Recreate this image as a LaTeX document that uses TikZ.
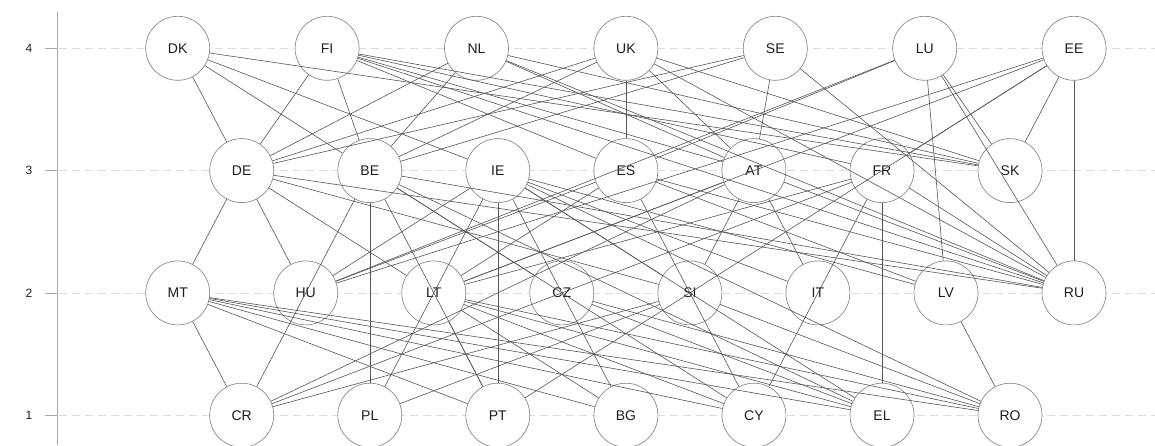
\documentclass[tikz,border=0pt]{standalone}
\usepackage{fontspec}
\setmainfont{Liberation Sans}
\definecolor{edgec}{HTML}{555555}
\definecolor{circc}{HTML}{858585}
\definecolor{gridc}{HTML}{DCDCDC}
\definecolor{axisc}{HTML}{A8A8A8}
\definecolor{textc}{HTML}{1E1E1E}
\begin{document}
\begin{tikzpicture}[x=1pt,y=-1pt,
  cnode/.style={circle,draw=circc,line width=0.65pt,fill=white,minimum size=64pt,inner sep=0pt,
    font=\fontsize{14}{16}\selectfont,text=textc},
  edge/.style={draw=edgec,line width=0.6pt},
  gridline/.style={draw=gridc,line width=0.7pt,dash pattern=on 8pt off 5pt},
  axislab/.style={font=\fontsize{12}{14}\selectfont,text=textc}]
\useasboundingbox (0,0) rectangle (1155,445);
% axis and grid
\foreach \yy/\lab in {48.3/4,170.6/3,292.9/2,415.2/1}{
  \draw[gridline] (59,\yy) -- (1155,\yy);
  \draw[axisc,line width=0.8pt] (45,\yy) -- (57.3,\yy);
  \node[axislab] at (29,\yy) {\lab};
}
\draw[axisc,line width=0.9pt] (57.3,12) -- (57.3,445);
% nodes row 4
\node[cnode] (DK) at (177.7,48.3) {DK};
\node[cnode] (FI) at (327.1,48.3) {FI};
\node[cnode] (NL) at (476.5,48.3) {NL};
\node[cnode] (UK) at (625.9,48.3) {UK};
\node[cnode] (SE) at (775.3,48.3) {SE};
\node[cnode] (LU) at (924.7,48.3) {LU};
\node[cnode] (EE) at (1074,48.3) {EE};
% row 3
\node[cnode] (DE) at (241.7,170.6) {DE};
\node[cnode] (BE) at (369.8,170.6) {BE};
\node[cnode] (IE) at (497.8,170.6) {IE};
\node[cnode] (ES) at (625.9,170.6) {ES};
\node[cnode] (AT) at (753.9,170.6) {AT};
\node[cnode] (FR) at (882,170.6) {FR};
\node[cnode] (SK) at (1010,170.6) {SK};
% row 2
\node[cnode] (MT) at (177.7,292.9) {MT};
\node[cnode] (HU) at (305.7,292.9) {HU};
\node[cnode] (LT) at (433.8,292.9) {LT};
\node[cnode] (CZ) at (561.8,292.9) {CZ};
\node[cnode] (SI) at (689.9,292.9) {SI};
\node[cnode] (IT) at (817.9,292.9) {IT};
\node[cnode] (LV) at (946,292.9) {LV};
\node[cnode] (RU) at (1074,292.9) {RU};
% row 1
\node[cnode] (CR) at (241.7,415.2) {CR};
\node[cnode] (PL) at (369.8,415.2) {PL};
\node[cnode] (PT) at (497.8,415.2) {PT};
\node[cnode] (BG) at (625.9,415.2) {BG};
\node[cnode] (CY) at (753.9,415.2) {CY};
\node[cnode] (EL) at (882,415.2) {EL};
\node[cnode] (RO) at (1010,415.2) {RO};
% edges
\foreach \a/\b in {
  DK/DE,DK/BE,DK/IE,DK/SK,
  FI/DE,FI/BE,FI/ES,FI/AT,FI/FR,FI/SK,FI/RU,
  NL/DE,NL/BE,NL/AT,NL/SK,NL/RU,
  UK/DE,UK/BE,UK/ES,UK/AT,UK/SK,UK/RU,
  SE/DE,SE/BE,SE/AT,SE/RU,
  LU/ES,LU/HU,LU/SK,LU/RU,LU/LV,
  EE/HU,EE/LT,EE/FR,EE/PT,EE/SK,EE/RU,
  DE/MT,DE/HU,DE/LT,DE/SI,DE/RU,
  BE/CR,BE/PL,BE/PT,BE/CZ,BE/CY,BE/EL,BE/RU,
  IE/HU,IE/PL,IE/PT,IE/BG,IE/SI,IE/EL,IE/IT,IE/RO,IE/LV,
  ES/HU,ES/LT,ES/CY,ES/LV,ES/RU,
  AT/SI,AT/IT,AT/LT,AT/RU,AT/CR,
  FR/RU,FR/EL,FR/CY,FR/LT,FR/CR,
  MT/CR,MT/PT,MT/BG,MT/CY,MT/EL,MT/RO,
  LT/PT,LT/BG,LT/CY,LT/EL,LT/RO,
  CR/SI,PL/SI,
  CZ/EL,CZ/RO,SI/RO,LV/RO}
  \draw[edge] (\a) -- (\b);
\end{tikzpicture}
\end{document}
